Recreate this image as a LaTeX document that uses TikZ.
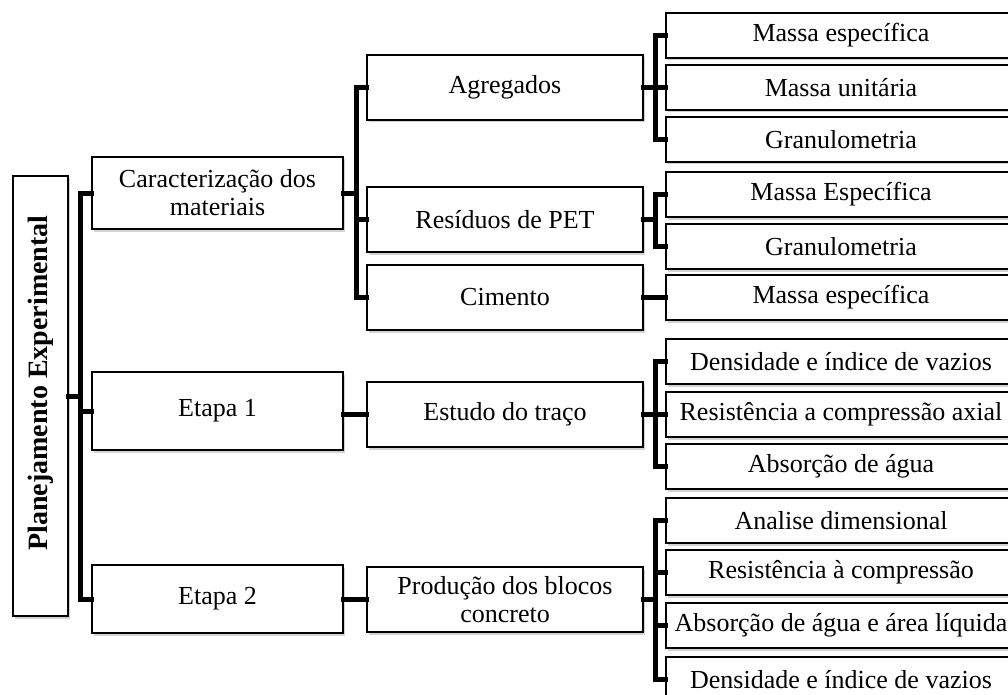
\documentclass[tikz,border=0pt]{standalone}
\usepackage{fontspec}
\setmainfont{Liberation Serif}
\usetikzlibrary{shadows}
\tikzset{
  box/.style={draw, line width=1.5pt, fill=white, align=center,
    drop shadow={opacity=0.35, shadow xshift=2pt, shadow yshift=-2.5pt},
    font=\fontsize{26}{28}\selectfont, inner sep=2pt},
  link/.style={line width=5pt, line cap=rect},
}
\begin{document}
\begin{tikzpicture}[x=1pt,y=-1pt]
\useasboundingbox (0,0) rectangle (1008,695);
% root
\node [box, minimum width=55, minimum height=440] (main) at (40.5,396)
  {\rotatebox{90}{\fontsize{28}{28}\selectfont\bfseries\hspace*{26pt}Planejamento Experimental}};
% first level
\node [box, minimum width=251, minimum height=72] (car) at (217.5,193) {Caracterização dos\\materiais};
\node [box, minimum width=251, minimum height=78] (et1) at (217.5,411) {Etapa 1};
\node [box, minimum width=251, minimum height=68] (et2) at (217.5,599) {Etapa 2};
% second level
\node [box, minimum width=276, minimum height=65] (agr) at (505,87.5) {Agregados};
\node [box, minimum width=276, minimum height=65] (res) at (505,219.5) {Resíduos de PET};
\node [box, minimum width=276, minimum height=65] (cim) at (505,297.5) {Cimento};
\node [box, minimum width=276, minimum height=65] (est) at (505,414.5) {Estudo do traço};
\node [box, minimum width=276, minimum height=65] (pro) at (505,599.5) {Produção dos blocos\\concreto};
% tests
\node [box, minimum width=350, minimum height=45] (agr1) at (841,35.5) {Massa específica};
\node [box, minimum width=350, minimum height=45] (agr2) at (841,87.5) {Massa unitária};
\node [box, minimum width=350, minimum height=45] (agr3) at (841,139.5) {Granulometria};
\node [box, minimum width=350, minimum height=45] (res1) at (841,194.5) {Massa Específica};
\node [box, minimum width=350, minimum height=45] (res2) at (841,246.5) {Granulometria};
\node [box, minimum width=350, minimum height=45] (cim1) at (841,297.5) {Massa específica};
\node [box, minimum width=350, minimum height=45] (est1) at (841,361.5) {Densidade e índice de vazios};
\node [box, minimum width=350, minimum height=45] (est2) at (841,414.5) {Resistência a compressão axial};
\node [box, minimum width=350, minimum height=45] (est3) at (841,466.5) {Absorção de água};
\node [box, minimum width=350, minimum height=45] (pro1) at (841,520.5) {Analise dimensional};
\node [box, minimum width=350, minimum height=45] (pro2) at (841,572.5) {Resistência à compressão};
\node [box, minimum width=350, minimum height=45] (pro3) at (841,625.5) {Absorção de água e área líquida};
\node [box, minimum width=350, minimum height=45] (pro4) at (841,679.5) {Densidade e índice de vazios};
% bus points
\coordinate (b0) at (80,396);
\coordinate (b1) at (356,193);
\coordinate (b2) at (655,87.5);
\coordinate (b3) at (655,219.5);
\coordinate (b4) at (655,414.5);
\coordinate (b5) at (655,599.5);
% connectors
\draw[link] (main.east) -- (b0);
\draw[link] (car.west) -| (b0) |- (et2.west);
\draw[link] (et1.west) -- (et1.west -| b0);
\draw[link] (car.east) -- (b1);
\draw[link] (agr.west) -| (b1) |- (cim.west);
\draw[link] (res.west) -- (res.west -| b1);
\draw[link] (est.west) -- (est.west -| et1.east);
\draw[link] (pro.west) -- (pro.west -| et2.east);
\draw[link] (agr.east) -- (agr2.west);
\draw[link] (agr1.west) -| (b2) |- (agr3.west);
\draw[link] (res.east) -- (b3);
\draw[link] (res1.west) -| (b3) |- (res2.west);
\draw[link] (cim.east) -- (cim1.west);
\draw[link] (est.east) -- (est2.west);
\draw[link] (est1.west) -| (b4) |- (est3.west);
\draw[link] (pro.east) -- (b5);
\draw[link] (pro1.west) -| (b5) |- (pro4.west);
\draw[link] (pro2.west) -- (pro2.west -| b5);
\draw[link] (pro3.west) -- (pro3.west -| b5);
\end{tikzpicture}
\end{document}
